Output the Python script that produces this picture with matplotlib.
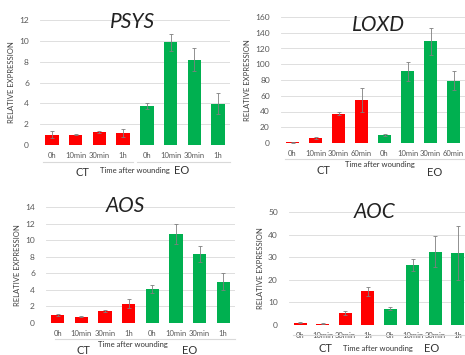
import matplotlib.pyplot as plt
import numpy as np

plt.rcParams['font.family'] = ['Lato', 'DejaVu Sans']

W, H = 465, 355

cats_4h = ['0h', '10min', '30min', '1h']
cats_60 = ['0h', '10min', '30min', '60min']

psys_ct = [1.0, 1.0, 1.25, 1.15]
psys_eo = [3.75, 9.85, 8.2, 3.95]
psys_ct_err = [0.3, 0.05, 0.1, 0.4]
psys_eo_err = [0.3, 0.85, 1.1, 1.0]

loxd_ct = [1.0, 6.5, 37, 55]
loxd_eo = [10, 91, 129, 79]
loxd_ct_err = [0.5, 1.0, 2.0, 15]
loxd_eo_err = [1.5, 12, 17, 12]

aos_ct = [1.0, 0.75, 1.45, 2.35]
aos_eo = [4.1, 10.7, 8.3, 5.0]
aos_ct_err = [0.1, 0.05, 0.1, 0.5]
aos_eo_err = [0.5, 1.2, 0.95, 1.0]

aoc_ct = [1.0, 0.5, 5.3, 15]
aoc_eo = [7.3, 26.5, 32.5, 32]
aoc_ct_err = [0.2, 0.2, 0.7, 2.0]
aoc_eo_err = [0.6, 2.5, 7.0, 12]

RED = '#FF0000'
GREEN = '#00B050'
GRID = '#D9D9D9'
TXT = '#595959'

fig = plt.figure(figsize=(W / 100, H / 100), dpi=100)


def px(x, y):
    return x / W, 1 - y / H


def panel(rect, title, cats, ct, eo, ct_err, eo_err, ymax, ystep, title_xy):
    x0, x1, ytop, ybot = rect
    ax = fig.add_axes([x0 / W, 1 - ybot / H, (x1 - x0) / W, (ybot - ytop) / H])
    x = np.arange(8)
    vals = ct + eo
    errs = ct_err + eo_err
    cols = [RED] * 4 + [GREEN] * 4
    ax.bar(x, vals, width=0.56, color=cols, zorder=2)
    ax.errorbar(x, vals, yerr=errs, fmt='none', ecolor='#7F7F7F',
                elinewidth=0.6, capsize=1.5, capthick=0.6, zorder=3)
    ax.set_xlim(-0.5, 7.5)
    ax.set_ylim(0, ymax)
    ax.set_yticks(np.arange(0, ymax + ystep / 2, ystep))
    ax.yaxis.grid(True, color=GRID, linewidth=0.6, zorder=0)
    ax.set_axisbelow(True)
    for s in ax.spines.values():
        s.set_visible(False)
    ax.set_xticks(x)
    ax.set_xticklabels(cats + cats)
    ax.tick_params(axis='x', length=0, pad=5, labelsize=5.5, labelcolor=TXT)
    ax.tick_params(axis='y', length=0, pad=8, labelsize=6, labelcolor=TXT)
    ax.set_ylabel('RELATIVE EXPRESSION', fontsize=5.5, color='#404040', labelpad=3)
    fig.text(*px(*title_xy), title, fontsize=15, style='italic',
             color='#222222', ha='center', va='center')
    return ax


panel((40, 230, 20, 145), 'PSYS', cats_4h, psys_ct, psys_eo,
      psys_ct_err, psys_eo_err, 12, 2, (133, 22))
fig.add_artist(plt.Line2D([43 / W, 133 / W], [1 - 162 / H] * 2, color=GRID, lw=0.8))
fig.add_artist(plt.Line2D([137 / W, 230 / W], [1 - 162 / H] * 2, color=GRID, lw=0.8))
fig.text(*px(82, 172), 'CT', fontsize=8, color='#333333', ha='center', va='center')
fig.text(*px(135, 171), 'Time after wounding', fontsize=5.5, color='#333333', ha='center', va='center')
fig.text(*px(182, 171), 'EO', fontsize=8, color='#333333', ha='center', va='center')

panel((281, 465, 17, 143), 'LOXD', cats_60, loxd_ct, loxd_eo,
      loxd_ct_err, loxd_eo_err, 160, 20, (378, 25))
fig.add_artist(plt.Line2D([285 / W, 465 / W], [1 - 159 / H] * 2, color=GRID, lw=0.8))
fig.text(*px(323, 170), 'CT', fontsize=8, color='#333333', ha='center', va='center')
fig.text(*px(380, 164), 'Time after wounding', fontsize=5.5, color='#333333', ha='center', va='center')
fig.text(*px(435, 172), 'EO', fontsize=8, color='#333333', ha='center', va='center')

panel((46, 235, 207, 323), 'AOS', cats_4h, aos_ct, aos_eo,
      aos_ct_err, aos_eo_err, 14, 2, (125, 206))
fig.add_artist(plt.Line2D([55 / W, 235 / W], [1 - 339 / H] * 2, color=GRID, lw=0.8))
fig.text(*px(83, 350), 'CT', fontsize=8, color='#333333', ha='center', va='center')
fig.text(*px(133, 345), 'Time after wounding', fontsize=5.5, color='#333333', ha='center', va='center')
fig.text(*px(190, 350), 'EO', fontsize=8, color='#333333', ha='center', va='center')

panel((289, 469, 212, 325), 'AOC', cats_4h, aoc_ct, aoc_eo,
      aoc_ct_err, aoc_eo_err, 50, 10, (375, 212))
fig.add_artist(plt.Line2D([293 / W, 465 / W], [1 - 335 / H] * 2, color=GRID, lw=0.8))
fig.text(*px(325, 349), 'CT', fontsize=8, color='#333333', ha='center', va='center')
fig.text(*px(378, 349), 'Time after wounding', fontsize=5.5, color='#333333', ha='center', va='center')
fig.text(*px(432, 349), 'EO', fontsize=8, color='#333333', ha='center', va='center')

plt.savefig('out.png', dpi=100)
